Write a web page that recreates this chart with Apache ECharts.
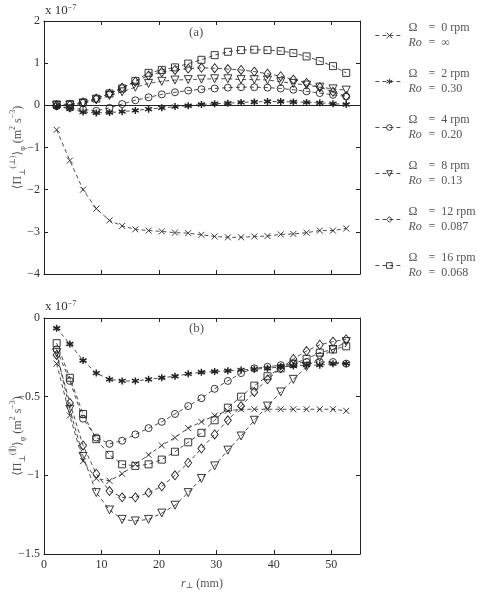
<!DOCTYPE html>
<html>
<head>
<meta charset="utf-8">
<script src="https://cdn.jsdelivr.net/npm/echarts@6/dist/echarts.min.js"></script>
<style>
  html, body { margin: 0; padding: 0; background: #fff; }
  #chart { width: 489px; height: 597px; }
</style>
</head>
<body>
<div id="chart"></div>
<script>
// separation r_perp (mm), shared by both panels
const rPerp = [2.2, 4.5, 6.8, 9.1, 11.4, 13.6, 15.9, 18.2, 20.5, 22.8, 25.1, 27.4,
  29.7, 32.0, 34.3, 36.6, 38.9, 41.2, 43.4, 45.7, 48.0, 50.3, 52.6]

// legend labels
const rpmLabels = ['0', '2', '4', '8', '12', '16']
const roLabels = ['∞', '0.30', '0.20', '0.13', '0.087', '0.068']

// panel (a): <Pi_perp^(perp)>_phi, units of 1e-7 m^2 s^-3
const a0 = [-0.58, -1.31, -2.00, -2.45, -2.73, -2.86, -2.94, -2.97, -2.99, -3.02, -3.03, -3.07,
  -3.11, -3.13, -3.13, -3.11, -3.10, -3.06, -3.05, -3.02, -2.97, -2.97, -2.92]
const a2 = [-0.03, -0.08, -0.16, -0.18, -0.17, -0.15, -0.12, -0.09, -0.06, -0.03, -0.01, 0.02,
  0.04, 0.05, 0.07, 0.08, 0.09, 0.09, 0.08, 0.07, 0.06, 0.04, 0.02]
const a4 = [-0.02, -0.06, -0.10, -0.13, -0.06, 0.03, 0.12, 0.19, 0.26, 0.31, 0.35, 0.38,
  0.40, 0.42, 0.43, 0.43, 0.42, 0.40, 0.37, 0.33, 0.29, 0.25, 0.21]
const a8 = [0.0, 0.0, 0.04, 0.13, 0.23, 0.32, 0.43, 0.52, 0.57, 0.60, 0.61, 0.62,
  0.63, 0.63, 0.61, 0.61, 0.60, 0.56, 0.52, 0.48, 0.43, 0.39, 0.36]
const a12 = [0.0, 0.01, 0.07, 0.16, 0.28, 0.42, 0.56, 0.71, 0.79, 0.84, 0.87, 0.89,
  0.88, 0.86, 0.84, 0.80, 0.75, 0.69, 0.61, 0.53, 0.43, 0.32, 0.22]
const a16 = [0.02, 0.03, 0.07, 0.16, 0.28, 0.40, 0.58, 0.77, 0.84, 0.90, 0.99, 1.08,
  1.19, 1.27, 1.31, 1.32, 1.31, 1.29, 1.24, 1.16, 1.05, 0.93, 0.77]

// panel (b): <Pi_perp^(par)>_phi, units of 1e-7 m^2 s^-3
const b0 = [-0.29, -0.62, -0.91, -1.02, -1.035, -0.99, -0.93, -0.87, -0.81, -0.76, -0.70, -0.66,
  -0.62, -0.59, -0.58, -0.58, -0.58, -0.58, -0.58, -0.58, -0.58, -0.58, -0.59]
const b2 = [-0.065, -0.165, -0.27, -0.35, -0.39, -0.40, -0.40, -0.39, -0.38, -0.37, -0.355, -0.345,
  -0.34, -0.335, -0.33, -0.325, -0.32, -0.31, -0.305, -0.30, -0.30, -0.29, -0.29]
const b4 = [-0.20, -0.40, -0.64, -0.76, -0.80, -0.78, -0.74, -0.70, -0.66, -0.61, -0.56, -0.51,
  -0.45, -0.40, -0.35, -0.32, -0.31, -0.30, -0.29, -0.28, -0.28, -0.28, -0.29]
const b8 = [-0.22, -0.58, -0.88, -1.11, -1.22, -1.28, -1.29, -1.28, -1.24, -1.19, -1.11, -1.02,
  -0.94, -0.84, -0.75, -0.65, -0.56, -0.47, -0.39, -0.31, -0.25, -0.20, -0.15]
const b12 = [-0.235, -0.54, -0.81, -0.99, -1.10, -1.14, -1.14, -1.11, -1.07, -1.00, -0.92, -0.83,
  -0.74, -0.65, -0.56, -0.47, -0.39, -0.32, -0.26, -0.21, -0.17, -0.15, -0.135]
const b16 = [-0.16, -0.38, -0.61, -0.77, -0.87, -0.93, -0.94, -0.93, -0.90, -0.85, -0.79, -0.73,
  -0.65, -0.57, -0.50, -0.43, -0.37, -0.32, -0.29, -0.26, -0.22, -0.20, -0.18]

const INK = '#222'
const TXT = '#333'
const SOFT = '#555'
const FONT = '"Liberation Serif", "DejaVu Serif", serif'

// marker per rotation rate
const markers = [
  { symbol: 'path://M0,0L10,10M0,10L10,0', size: 6, fill: 'transparent' },
  { symbol: 'path://M5,0L5,10M0.7,2.5L9.3,7.5M0.7,7.5L9.3,2.5', size: 7, fill: INK, bw: 1.5 },
  { symbol: 'circle', size: 7, fill: 'transparent' },
  { symbol: 'path://M0,0L10,0L5,9Z', size: 8, fill: 'transparent' },
  { symbol: 'diamond', size: [7, 9], fill: 'transparent' },
  { symbol: 'rect', size: 7, fill: 'transparent' },
]

const names = rpmLabels.map(r => r + ' rpm')
const panelA = [a0, a2, a4, a8, a12, a16]
const panelB = [b0, b2, b4, b8, b12, b16]

function makeSeries(i, values, axisIdx) {
  const m = markers[i]
  return {
    name: names[i],
    type: 'line',
    xAxisIndex: axisIdx,
    yAxisIndex: axisIdx,
    data: rPerp.map((x, k) => [x, values[k]]),
    symbol: m.symbol,
    symbolSize: m.size,
    showAllSymbol: true,
    lineStyle: { color: INK, width: 0.8, type: [4, 3] },
    itemStyle: { color: m.fill, borderColor: INK, borderWidth: m.bw || 0.9 },
    emphasis: { disabled: true },
    silent: true,
    z: 3,
  }
}

const series = []
panelA.forEach((v, i) => series.push(makeSeries(i, v, 0)))
panelB.forEach((v, i) => series.push(makeSeries(i, v, 2)))

// solid zero line in panel (a)
series[0].markLine = {
  silent: true,
  symbol: 'none',
  label: { show: false },
  lineStyle: { color: INK, width: 1, type: 'solid' },
  data: [{ yAxis: 0 }],
}

const minus = v => String(v).replace('-', '\u2212')

function xAxisPair(gridIndex, showLabels) {
  const base = {
    type: 'value', gridIndex, min: 0, max: 55, interval: 10,
    axisLine: { onZero: false, lineStyle: { color: INK, width: 1 } },
    axisTick: { inside: true, length: 4, lineStyle: { color: INK } },
    splitLine: { show: false },
  }
  return [
    Object.assign({}, base, {
      position: 'bottom',
      axisLabel: { show: showLabels, color: TXT, fontFamily: FONT, fontSize: 12, margin: 5,
        showMaxLabel: false },
      name: showLabels ? '{i|r}{s|⊥}{t| (mm)}' : '',
      nameLocation: 'middle',
      nameGap: 24,
      nameMoveOverlap: false,
      nameTextStyle: {
        rich: {
          i: { fontFamily: FONT, fontStyle: 'italic', fontSize: 12, color: SOFT },
          s: { fontFamily: FONT, fontSize: 8, color: SOFT, verticalAlign: 'bottom' },
          t: { fontFamily: FONT, fontSize: 12, color: SOFT },
        },
      },
    }),
    Object.assign({}, base, { position: 'top', axisLabel: { show: false } }),
  ]
}

function yAxisPair(gridIndex, min, max, interval, nameText) {
  const base = {
    type: 'value', gridIndex, min, max, interval,
    axisLine: { onZero: false, lineStyle: { color: INK, width: 1 } },
    axisTick: { inside: true, length: 4, lineStyle: { color: INK } },
    splitLine: { show: false },
  }
  return [
    Object.assign({}, base, {
      position: 'left',
      axisLabel: { color: TXT, fontFamily: FONT, fontSize: 12, margin: 4, formatter: minus },
      name: nameText,
      nameLocation: 'middle',
      nameRotate: 90,
      nameGap: 17,
      nameMoveOverlap: false,
      nameTextStyle: {
        rich: {
          t: { fontFamily: FONT, fontSize: 12, color: SOFT, lineHeight: 18 },
          p: { fontFamily: FONT, fontSize: 8, color: SOFT, verticalAlign: 'top' },
          b: { fontFamily: FONT, fontSize: 8, color: SOFT, verticalAlign: 'bottom' },
        },
      },
    }),
    Object.assign({}, base, { position: 'right', axisLabel: { show: false } }),
  ]
}

const xa = xAxisPair(0, false).concat(xAxisPair(1, true))
const ya = yAxisPair(0, -4, 2, 1, '{t|⟨Π}{b|⊥}{p|(⊥)}{t|⟩}{b|φ}{t| (m}{p|2}{t| s}{p|−3}{t|)}')
  .concat(yAxisPair(1, -1.5, 0, 0.5, '{t|⟨Π}{b|⊥}{p|(∥)}{t|⟩}{b|φ}{t| (m}{p|2}{t| s}{p|−3}{t|)}'))

const expRich = {
  a: { fontFamily: FONT, fontSize: 13, fill: TXT },
  s: { fontFamily: FONT, fontSize: 8, fill: TXT, verticalAlign: 'top' },
}

const chart = echarts.init(document.getElementById('chart'), null, { renderer: 'canvas' })

chart.setOption({
  backgroundColor: '#fff',
  animation: false,
  grid: [
    { left: 44, top: 21, width: 316, height: 253, containLabel: false, outerBoundsMode: 'none' },
    { left: 44, top: 318, width: 316, height: 236, containLabel: false, outerBoundsMode: 'none' },
  ],
  xAxis: xa,
  yAxis: ya,
  legend: {
    orient: 'vertical',
    left: 370,
    top: 17,
    itemWidth: 28,
    itemHeight: 7,
    itemGap: 19,
    selectedMode: false,
    data: names,
    lineStyle: { width: 0.8 },
    itemStyle: { borderWidth: 0.9 },
    formatter: name => {
      const i = names.indexOf(name)
      return '{o|Ω}{e|=  ' + rpmLabels[i] + ' rpm}\n{r|Ro}{e|=  ' + roLabels[i] + '}'
    },
    textStyle: {
      color: SOFT,
      rich: {
        o: { fontFamily: FONT, fontSize: 12, width: 20, lineHeight: 15 },
        r: { fontFamily: FONT, fontSize: 12, fontStyle: 'italic', width: 20, lineHeight: 15 },
        e: { fontFamily: FONT, fontSize: 12, lineHeight: 15 },
      },
    },
  },
  graphic: [
    { type: 'text', left: 45, top: 4, style: { text: '{a|x 10}{s|−7}', rich: expRich } },
    { type: 'text', left: 45, top: 300, style: { text: '{a|x 10}{s|−7}', rich: expRich } },
    { type: 'text', left: 189, top: 26,
      style: { text: '(a)', fontFamily: FONT, fontSize: 13, fill: SOFT } },
    { type: 'text', left: 189, top: 322,
      style: { text: '(b)', fontFamily: FONT, fontSize: 13, fill: SOFT } },
  ],
  series,
})
</script>
</body>
</html>
